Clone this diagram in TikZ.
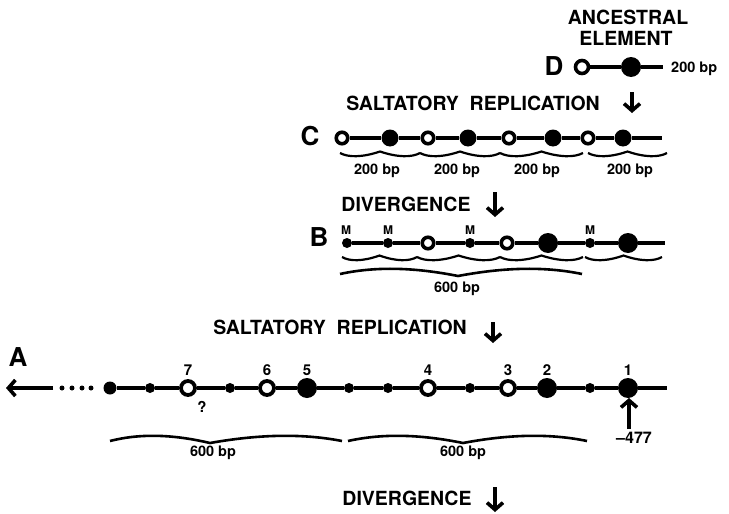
\documentclass[tikz,border=0pt]{standalone}
\usepackage{fontspec}
\setmainfont{TeX Gyre Heros}
\usetikzlibrary{arrows.meta}
\newcommand\wseg[3]{%
  \pgfmathsetmacro\wxa{#1}\pgfmathsetmacro\wxb{#2}%
  \pgfmathsetmacro\wxm{(#1+#2)/2}\pgfmathsetmacro\wxw{#2-#1}%
  \draw[wav] (\wxa,#3) .. controls ({\wxa+0.1*\wxw},{#3+4.5}) and ({\wxm-0.22*\wxw},{#3+4.5}) .. (\wxm,{#3-1.5})
    .. controls ({\wxm+0.22*\wxw},{#3+4.5}) and ({\wxb-0.1*\wxw},{#3+4.5}) .. (\wxb,#3);}
\newcommand\bbrace[4]{%
  \pgfmathsetmacro\bxl{#2-#1}\pgfmathsetmacro\bxr{#3-#2}%
  \draw[brc] (#1,#4) .. controls ({#1+0.35*\bxl},{#4-9}) and ({#2-0.3*\bxl},{#4-5}) .. (#2,{#4+2})
    .. controls ({#2+0.3*\bxr},{#4-5}) and ({#3-0.35*\bxr},{#4-9}) .. (#3,#4);}
\begin{document}
\begin{tikzpicture}[x=1pt,y=-1pt,
  dna/.style={line width=4pt},
  opn/.style={circle, draw, line width=3.6pt, fill=white, minimum size=11.5pt, inner sep=0pt},
  opnA/.style={opn, minimum size=14pt, line width=3.8pt},
  fil/.style={circle, fill, minimum size=17pt, inner sep=0pt},
  big/.style={circle, fill, minimum size=20pt, inner sep=0pt},
  med/.style={circle, fill, minimum size=13pt, inner sep=0pt},
  sml/.style={circle, fill, minimum size=10pt, inner sep=0pt},
  dotp/.style={circle, fill, minimum size=5pt, inner sep=0pt},
  head/.style={font=\bfseries\fontsize{19.5}{21}\selectfont, inner sep=0pt},
  lbl/.style={font=\bfseries\fontsize{26}{28}\selectfont, inner sep=0pt},
  bp/.style={font=\bfseries\fontsize{14.5}{16}\selectfont, inner sep=0pt},
  num/.style={font=\bfseries\fontsize{15}{16}\selectfont, inner sep=0pt},
  mlab/.style={font=\bfseries\fontsize{12}{13}\selectfont, inner sep=0pt},
  arr/.style={line width=3.6pt, -{Straight Barb[length=7pt,width=16pt]}},
  wav/.style={line width=2.2pt},
  brc/.style={line width=2.6pt}]
\useasboundingbox (0,0) rectangle (729,514);

% ---------- D ----------
\node[head] (anc) at (628,17) {ANCESTRAL};
\node[head] (ele) at (626,38) {ELEMENT};
\node[lbl] (D) at (554,66) {D};
\node[opn, minimum size=13pt] (d1) at (582,67) {};
\node[big] (d2) at (631,67) {};
\coordinate (dend) at (663,67);
\draw[dna] (d1) -- (d2) -- (dend);
\node[bp, anchor=west] (dbp) at (671,69) {200 bp};

% ---------- saltatory 1 ----------
\node[head] (s1) at (473,103) {SALTATORY\ \ REPLICATION};
\coordinate (s1a) at (632,92); \coordinate (s1b) at (632,113);
\draw[arr] (s1a) -- (s1b);

% ---------- C ----------
\node[lbl] (C) at (310,136) {C};
\node[opn] (c1) at (342,138) {};
\node[fil] (c2) at (390,138) {};
\node[opn] (c3) at (428,138) {};
\node[fil] (c4) at (468,138) {};
\node[opn] (c5) at (509,138) {};
\node[fil] (c6) at (553,138) {};
\node[opn] (c7) at (588,138) {};
\node[fil] (c8) at (623,138) {};
\coordinate (cend) at (662,138);
\draw[dna] (c1) -- (c2) -- (c3) -- (c4) -- (c5) -- (c6) -- (c7) -- (c8) -- (cend);
\wseg{340}{420}{153}\wseg{420}{500}{153}\wseg{500}{583}{153}\wseg{588}{667}{153}
\node[bp] (cb1) at (377,171) {200 bp};
\node[bp] (cb2) at (457,171) {200 bp};
\node[bp] (cb3) at (537,171) {200 bp};
\node[bp] (cb4) at (630,171) {200 bp};

% ---------- divergence 1 ----------
\node[head] (dv1) at (406,204) {DIVERGENCE};
\coordinate (dv1a) at (495,192); \coordinate (dv1b) at (495,217);
\draw[arr] (dv1a) -- (dv1b);

% ---------- B ----------
\node[lbl] (B) at (319,237) {B};
\node[sml] (b1) at (347,243) {};
\node[sml] (b2) at (388,243) {};
\node[opn] (b3) at (428,243) {};
\node[sml] (b4) at (470,243) {};
\node[opn] (b5) at (507,243) {};
\node[big] (b6) at (548,243) {};
\node[sml] (b7) at (590,243) {};
\node[big] (b8) at (628,243) {};
\coordinate (bend) at (665,243);
\draw[dna] (b1) -- (b2) -- (b3) -- (b4) -- (b5) -- (b6) -- (b7) -- (b8) -- (bend);
\node[mlab] (m1) at (346,230) {M};
\node[mlab] (m2) at (388,230) {M};
\node[mlab] (m3) at (470,230) {M};
\node[mlab] (m4) at (590,230) {M};
\wseg{342}{417}{257}\wseg{417}{500}{257}\wseg{500}{583}{257}\wseg{585}{662}{257}
\bbrace{340}{458}{582}{274}
\node[bp] (b600) at (457,289) {600 bp};

% ---------- saltatory 2 ----------
\node[head] (s2) at (340,327) {SALTATORY\ \ REPLICATION};
\coordinate (s2a) at (493,322); \coordinate (s2b) at (493,343);
\draw[arr] (s2a) -- (s2b);

% ---------- A ----------
\node[lbl] (A) at (18,357) {A};
\coordinate (aL) at (53,388); \coordinate (aT) at (6,388);
\draw[arr] (aL) -- (aT);
\node[dotp] (p1) at (62,388) {};
\node[dotp] (p2) at (72,388) {};
\node[dotp] (p3) at (82,388) {};
\node[dotp] (p4) at (91,388) {};
\node[med] (a0) at (110,388) {};
\node[sml] (a1) at (150,388) {};
\node[opnA] (a2) at (188,388) {};
\node[sml] (a3) at (230,388) {};
\node[opnA] (a4) at (267,388) {};
\node[big] (a5) at (307,388) {};
\node[sml] (a6) at (349,388) {};
\node[sml] (a7) at (388,388) {};
\node[opnA] (a8) at (428,388) {};
\node[sml] (a9) at (470,388) {};
\node[opnA] (a10) at (508,388) {};
\node[big] (a11) at (547,388) {};
\node[sml] (a12) at (590,388) {};
\node[big] (a13) at (628,388) {};
\coordinate (aend) at (667,388);
\draw[dna] (a0) -- (a1) -- (a2) -- (a3) -- (a4) -- (a5) -- (a6) -- (a7) -- (a8) -- (a9) -- (a10) -- (a11) -- (a12) -- (a13) -- (aend);
\node[num] (n7) at (188,370) {7};
\node[num] (n6) at (267,370) {6};
\node[num] (n5) at (307,370) {5};
\node[num] (n4) at (428,370) {4};
\node[num] (n3) at (508,370) {3};
\node[num] (n2) at (547,370) {2};
\node[num] (n1) at (628,370) {1};
\node[num] (q) at (202,407) {?};
\coordinate (upa) at (629,429); \coordinate (upb) at (629,398);
\draw[arr] (upa) -- (upb);
\node[font=\bfseries\fontsize{16}{17}\selectfont, inner sep=0pt] (pos) at (634,438) {–477};
\bbrace{110}{210}{342}{441}
\bbrace{348}{463}{587}{441}
\node[bp] (a600a) at (213,453) {600 bp};
\node[bp] (a600b) at (463,453) {600 bp};

% ---------- divergence 2 ----------
\node[head] (dv2) at (407,498) {DIVERGENCE};
\coordinate (dv2a) at (495,487); \coordinate (dv2b) at (495,512);
\draw[arr] (dv2a) -- (dv2b);
\end{tikzpicture}
\end{document}
